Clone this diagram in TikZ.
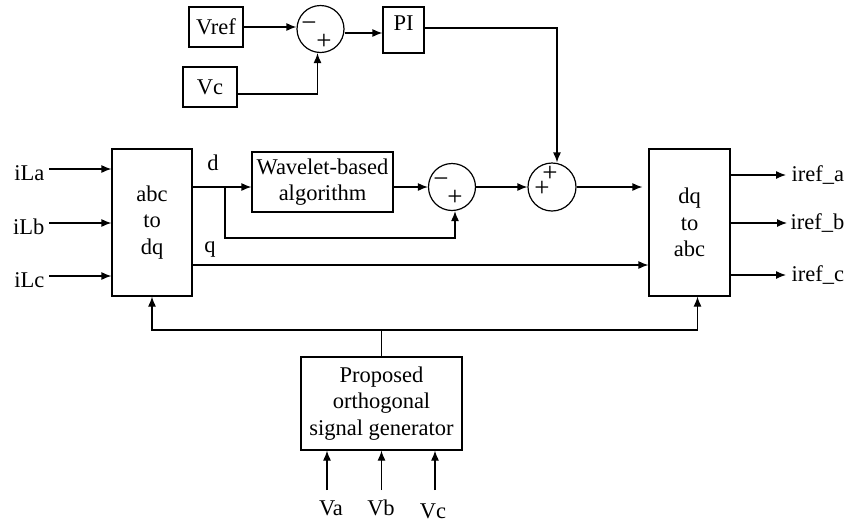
\documentclass[tikz,border=0pt]{standalone}
\usepackage{fontspec}
\setmainfont{Liberation Serif}
\usetikzlibrary{arrows.meta}
\begin{document}
\begin{tikzpicture}[x=1pt,y=-1pt, line width=1.2pt,
  font=\fontsize{22.5}{26.5}\selectfont,
  box/.style={draw, line width=1.2pt, inner sep=0pt},
  sumc/.style={draw, circle, minimum size=47pt, inner sep=0pt},
  arr/.style={-{Latex[length=10pt,width=8pt]}},
  sgn/.style={inner sep=0pt, font=\fontsize{27}{27}\selectfont},
  lbl/.style={inner sep=0pt}]
\useasboundingbox (0,0) rectangle (847,523);

% top loop
\node[box, minimum width=54pt, minimum height=40pt] (vref) at (216,27) {Vref};
\node[box, minimum width=54pt, minimum height=40pt] (vc) at (210,87) {Vc};
\node[sumc] (s1) at (320.5,29) {};
\node[sgn] (s1m) at (309,27) {−};
\node[sgn] (s1p) at (324,42) {+};
\node[box, minimum width=41pt, minimum height=46pt] (pi) at (403.5,30) {};
\node[lbl] (pit) at (403.5,23) {PI};

\draw[arr] (vref.east) -- (vref.east -| s1.west);
\draw[arr] ([yshift=-7pt]vc.east) -| ([xshift=-3pt]s1.south);
\draw[arr] ([yshift=-4pt]s1.east) -- ([yshift=-4pt]s1.east -| pi.west);

% main row
\node[box, minimum width=80pt, minimum height=147pt, align=center] (abc) at (152,222.5) {abc\\to\\dq};
\node[box, minimum width=141pt, minimum height=60pt, align=center] (wav) at (322.5,182) {Wavelet-based\\algorithm};
\node[sumc] (s2) at (452,187) {};
\node[sgn] (s2m) at (441,183) {−};
\node[sgn] (s2p) at (455,198) {+};
\node[sumc, minimum size=48pt] (s3) at (552,187) {};
\node[sgn] (s3a) at (550,174) {+};
\node[sgn] (s3b) at (542,189) {+};
\node[box, minimum width=81pt, minimum height=147pt, align=center] (dq) at (689.5,222.5) {dq\\to\\abc};

\draw[arr] ([yshift=2pt]pi.east) -| ([xshift=5pt]s3.north);

% inputs
\node[lbl, anchor=east] (ila) at (45,173) {iLa};
\node[lbl, anchor=east] (ilb) at (45,227) {iLb};
\node[lbl, anchor=east] (ilc) at (45,280) {iLc};
\coordinate (ia) at ([xshift=4pt,yshift=4pt]ila.east);
\coordinate (ib) at ([xshift=4pt,yshift=4pt]ilb.east);
\coordinate (ic) at ([xshift=4pt,yshift=4pt]ilc.east);
\draw[arr] (ia) -- (ia -| abc.west);
\draw[arr] (ib) -- (ib -| abc.west);
\draw[arr] (ic) -- (ic -| abc.west);

% d path
\coordinate (br) at (225,187);
\draw[arr] (abc.east |- s2) -- (wav.west |- s2);
\draw[arr] (br) -- ++(0,51) -| ([xshift=3pt]s2.south);
\draw[arr] (wav.east |- s2) -- (s2.west);
\draw[arr] (s2.east) -- (s3.west);
\coordinate (dqin) at ([xshift=-6pt]dq.west);
\draw[arr] (s3.east) -- (dqin |- s3);
\node[lbl] (dl) at (213,163) {d};

% q path
\coordinate (qy) at (0,265);
\draw[arr] (abc.east |- qy) -- (dq.west |- qy);
\node[lbl] (ql) at (210,249) {q};

% outputs
\coordinate (oa) at (786,175);
\coordinate (ob) at (787,223);
\coordinate (oc) at (786,275);
\draw[arr] (dq.east |- oa) -- (oa);
\draw[arr] (dq.east |- ob) -- (ob);
\draw[arr] (dq.east |- oc) -- (oc);
\node[lbl, anchor=west] (ra) at ([xshift=5pt]oa) {iref\_a};
\node[lbl, anchor=west] (rb) at ([xshift=3pt]ob) {iref\_b};
\node[lbl, anchor=west] (rc) at ([xshift=5pt]oc) {iref\_c};

% generator
\node[box, minimum width=161pt, minimum height=93pt, align=center] (gen) at (381.5,403.5) {Proposed\\orthogonal\\signal generator};
\coordinate (bus) at (381.5,330);
\draw (gen.north) -- (bus);
\draw[arr] (bus) -| (abc.south);
\draw[arr] (bus) -| ([xshift=8pt]dq.south);

\coordinate (pa) at (327,490);
\coordinate (pb) at (381.5,490);
\coordinate (pc) at (435,490);
\draw[arr] (pa) -- (pa |- gen.south);
\draw[arr] (pb) -- (pb |- gen.south);
\draw[arr] (pc) -- (pc |- gen.south);
\node[lbl] (va) at (331,508) {Va};
\node[lbl] (vb) at (381,508) {Vb};
\node[lbl] (vcl) at (433,511) {Vc};
\end{tikzpicture}
\end{document}
